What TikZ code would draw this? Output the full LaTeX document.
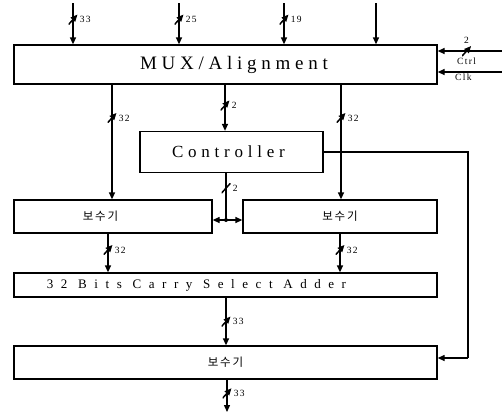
\documentclass[tikz,border=0pt]{standalone}
\usepackage{fontspec}
\setmainfont{Liberation Serif}
\newfontfamily\kor{Noto Sans CJK KR}
\usetikzlibrary{arrows.meta,calc}

\begin{document}
\begin{tikzpicture}[x=1pt,y=-1pt,
  blk/.style={draw, line width=1.3pt, rectangle, inner sep=0pt},
  wire/.style={line width=1.3pt},
  arr/.style={wire, -{Triangle[length=7pt,width=6pt]}},
  busmark/.style={minimum width=9pt, minimum height=10pt, inner sep=0pt,
    path picture={\draw[line width=1.5pt] (path picture bounding box.south west)
      -- (path picture bounding box.north east);}},
  bw/.style={font=\fontsize{9.5}{9.5}\selectfont\addfontfeature{LetterSpace=15}, inner sep=1pt},
  cmptxt/.style={font=\kor\fontsize{11.5}{11.5}\selectfont\addfontfeature{LetterSpace=15}}]
  \useasboundingbox (0,0) rectangle (502,413);

  % blocks
  \node[blk, minimum width=423pt, minimum height=39pt] (mux) at (225.5,64.5)
    {\fontsize{19}{19}\selectfont\addfontfeature{LetterSpace=25}\hspace*{17pt}MUX/Alignment};
  \node[blk, minimum width=183pt, minimum height=41pt] (ctl) at (231.5,152)
    {\fontsize{17}{17}\selectfont\addfontfeature{LetterSpace=28}Controller\hspace*{6pt}};
  \node[blk, cmptxt, minimum width=198pt, minimum height=33pt] (cmp1) at (113,216.5) {보수기\hspace*{25pt}};
  \node[blk, cmptxt, minimum width=194pt, minimum height=33pt] (cmp2) at (340,216.5) {보수기};
  \node[blk, minimum width=423pt, minimum height=24pt] (add) at (225.5,285)
    {\fontsize{13}{13}\selectfont\addfontfeature{LetterSpace=58}\hspace*{-58pt}32 Bits Carry Select Adder};
  \node[blk, cmptxt, minimum width=423pt, minimum height=33pt] (cmp3) at (225.5,362.5) {보수기};

  % inputs of MUX/Alignment
  \coordinate (in1) at (73,3);
  \coordinate (in2) at (179,3);
  \coordinate (in3) at (284,3);
  \coordinate (in4) at (376,3);
  \draw[arr] (in1) -- node[busmark, pos=.4, label={[bw]right:33}] {} (in1 |- mux.north);
  \draw[arr] (in2) -- node[busmark, pos=.4, label={[bw]right:25}] {} (in2 |- mux.north);
  \draw[arr] (in3) -- node[busmark, pos=.4, label={[bw]right:19}] {} (in3 |- mux.north);
  \draw[arr] (in4) -- (in4 |- mux.north);

  \coordinate (ctrlin) at (502,51);
  \coordinate (clkin) at (502,72);
  \draw[arr] (ctrlin) -- node[busmark, pos=.55, label={[bw]above:2}, label={[bw]below:Ctrl}] {}
    (ctrlin -| mux.east);
  \draw[arr] (clkin) -- node[bw, pos=.6, below] {Clk} (clkin -| mux.east);

  % MUX/Alignment outputs
  \coordinate (c1) at (112,0);
  \coordinate (c2) at (225,0);
  \coordinate (c3) at (341,0);
  \draw[arr] (c1 |- mux.south) -- node[busmark, pos=.29, label={[bw]right:32}] {} (c1 |- cmp1.north);
  \draw[arr] (c2 |- mux.south) -- node[busmark, pos=.45, label={[bw]right:2}] {} (c2 |- ctl.north);
  \draw[arr] (c3 |- mux.south) -- node[busmark, pos=.29, label={[bw]right:32}] {} (c3 |- cmp2.north);

  % controller outputs
  \coordinate (jn) at (226,220);
  \draw[wire] (jn |- ctl.south) -- node[busmark, pos=.32, label={[bw]right:2}] {} (jn);
  \fill (jn) circle (2pt);
  \draw[arr] (jn) -- (jn -| cmp1.east);
  \draw[arr] (jn) -- (jn -| cmp2.west);
  \coordinate (rt) at (468,358);
  \draw[wire] (ctl.east) -| (rt);
  \draw[arr] (rt) -- (rt -| cmp3.east);

  % into the adder
  \coordinate (c4) at (108,0);
  \coordinate (c5) at (340,0);
  \draw[arr] (c4 |- cmp1.south) -- node[busmark, pos=.42, label={[bw]right:32}] {} (c4 |- add.north);
  \draw[arr] (c5 |- cmp2.south) -- node[busmark, pos=.42, label={[bw]right:32}] {} (c5 |- add.north);

  % adder and last stage
  \coordinate (c6) at (226,0);
  \coordinate (out) at (227,412);
  \draw[arr] (c6 |- add.south) -- node[busmark, pos=.5, label={[bw]right:33}] {} (c6 |- cmp3.north);
  \draw[arr] (out |- cmp3.south) -- node[busmark, pos=.42, label={[bw]right:33}] {} (out);
\end{tikzpicture}
\end{document}
